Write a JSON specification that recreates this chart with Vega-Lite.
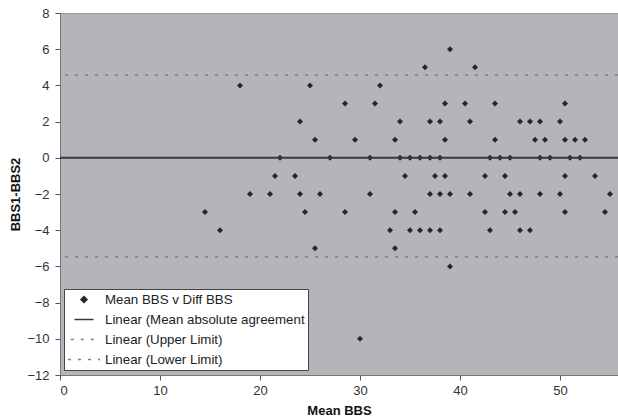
{
  "$schema": "https://vega.github.io/schema/vega-lite/v6.json",
  "width": 558,
  "height": 362,
  "autosize": {"type": "none"},
  "padding": {"left": 60, "top": 13, "right": 0, "bottom": 44},
  "background": "white",
  "config": {
    "view": {"fill": "#b4b5b9", "stroke": "#999999", "strokeWidth": 1},
    "font": "Liberation Sans",
    "axis": {
      "labelFont": "Liberation Sans",
      "labelFontSize": 13,
      "labelColor": "#333333",
      "labelOverlap": false,
      "titleFont": "Liberation Sans",
      "titleFontSize": 13,
      "titleFontWeight": "bold",
      "titleColor": "#111111",
      "tickColor": "#555555",
      "domainColor": "#777777",
      "tickSize": 5,
      "grid": false
    },
    "legend": {
      "title": null,
      "orient": "none",
      "legendX": 4,
      "legendY": 276,
      "fillColor": "white",
      "strokeColor": "#444444",
      "padding": 3,
      "rowPadding": 5,
      "clipHeight": 15,
      "labelFont": "Liberation Sans",
      "labelFontSize": 13.3,
      "labelColor": "#222222",
      "labelOffset": 4,
      "labelLimit": 400
    }
  },
  "datasets": {
    "pts": [
      {"m": 39, "d": 6},
      {"m": 36.5, "d": 5}, {"m": 41.5, "d": 5},
      {"m": 18, "d": 4}, {"m": 25, "d": 4}, {"m": 32, "d": 4},
      {"m": 28.5, "d": 3}, {"m": 31.5, "d": 3}, {"m": 38.5, "d": 3}, {"m": 40.5, "d": 3}, {"m": 43.5, "d": 3}, {"m": 50.5, "d": 3},
      {"m": 24, "d": 2}, {"m": 34, "d": 2}, {"m": 37, "d": 2}, {"m": 38, "d": 2}, {"m": 41, "d": 2}, {"m": 46, "d": 2}, {"m": 47, "d": 2}, {"m": 48, "d": 2}, {"m": 50, "d": 2},
      {"m": 25.5, "d": 1}, {"m": 29.5, "d": 1}, {"m": 33.5, "d": 1}, {"m": 38.5, "d": 1}, {"m": 43.5, "d": 1}, {"m": 47.5, "d": 1}, {"m": 48.5, "d": 1}, {"m": 50.5, "d": 1}, {"m": 51.5, "d": 1}, {"m": 52.5, "d": 1},
      {"m": 22, "d": 0}, {"m": 27, "d": 0}, {"m": 31, "d": 0}, {"m": 34, "d": 0}, {"m": 35, "d": 0}, {"m": 36, "d": 0}, {"m": 37, "d": 0}, {"m": 38, "d": 0}, {"m": 43, "d": 0}, {"m": 44, "d": 0}, {"m": 45, "d": 0}, {"m": 48, "d": 0}, {"m": 49, "d": 0}, {"m": 51, "d": 0}, {"m": 52, "d": 0},
      {"m": 21.5, "d": -1}, {"m": 23.5, "d": -1}, {"m": 34.5, "d": -1}, {"m": 37.5, "d": -1}, {"m": 38.5, "d": -1}, {"m": 42.5, "d": -1}, {"m": 44.5, "d": -1}, {"m": 50.5, "d": -1}, {"m": 53.5, "d": -1},
      {"m": 19, "d": -2}, {"m": 21, "d": -2}, {"m": 24, "d": -2}, {"m": 26, "d": -2}, {"m": 31, "d": -2}, {"m": 37, "d": -2}, {"m": 38, "d": -2}, {"m": 39, "d": -2}, {"m": 41, "d": -2}, {"m": 45, "d": -2}, {"m": 46, "d": -2}, {"m": 48, "d": -2}, {"m": 50, "d": -2}, {"m": 55, "d": -2},
      {"m": 14.5, "d": -3}, {"m": 24.5, "d": -3}, {"m": 28.5, "d": -3}, {"m": 33.5, "d": -3}, {"m": 35.5, "d": -3}, {"m": 42.5, "d": -3}, {"m": 44.5, "d": -3}, {"m": 45.5, "d": -3}, {"m": 50.5, "d": -3}, {"m": 54.5, "d": -3},
      {"m": 16, "d": -4}, {"m": 33, "d": -4}, {"m": 35, "d": -4}, {"m": 36, "d": -4}, {"m": 37, "d": -4}, {"m": 38, "d": -4}, {"m": 43, "d": -4}, {"m": 46, "d": -4}, {"m": 47, "d": -4},
      {"m": 25.5, "d": -5}, {"m": 33.5, "d": -5},
      {"m": 39, "d": -6},
      {"m": 30, "d": -10}
    ],
    "lines": [
      {"series": "Linear (Mean absolute agreement", "value": 0},
      {"series": "Linear (Upper Limit)", "value": 4.57},
      {"series": "Linear (Lower Limit)", "value": -5.47}
    ]
  },
  "layer": [
    {
      "data": {"name": "pts"},
      "transform": [{"calculate": "'Mean BBS v Diff BBS'", "as": "series"}],
      "mark": {"type": "point", "filled": true, "opacity": 1},
      "encoding": {
        "x": {"field": "m", "type": "quantitative", "title": "Mean BBS", "scale": {"domain": [0, 55.8], "nice": false, "zero": false}, "axis": {"values": [0, 10, 20, 30, 40, 50], "labelPadding": 4, "titlePadding": 7}},
        "y": {"field": "d", "type": "quantitative", "title": "BBS1-BBS2", "scale": {"domain": [-12, 8], "nice": false, "zero": false}, "axis": {"values": [-12, -10, -8, -6, -4, -2, 0, 2, 4, 6, 8], "labelPadding": 6, "titlePadding": 4}},
        "color": {"field": "series", "type": "nominal", "scale": {"domain": ["Mean BBS v Diff BBS", "Linear (Mean absolute agreement", "Linear (Upper Limit)", "Linear (Lower Limit)"], "range": ["#262626", "#3a3a3a", "#808080", "#808080"]},
          "legend": {
            "encode": {
              "symbols": {
                "update": {
                  "fill": {"signal": "datum.value === 'Mean BBS v Diff BBS' ? '#222222' : 'transparent'"},
                  "stroke": {"signal": "datum.value === 'Mean BBS v Diff BBS' ? 'transparent' : (datum.value === 'Linear (Mean absolute agreement' ? '#222222' : '#555555')"},
                  "strokeWidth": {"signal": "datum.value === 'Linear (Mean absolute agreement' ? 1.5 : 1"},
                  "strokeDash": {"signal": "(datum.value === 'Linear (Upper Limit)' || datum.value === 'Linear (Lower Limit)') ? [4, 6] : [1, 0]"},
                  "opacity": {"value": 1}
                }
              }
            }
          }
        },
        "shape": {"field": "series", "type": "nominal", "scale": {"domain": ["Mean BBS v Diff BBS", "Linear (Mean absolute agreement", "Linear (Upper Limit)", "Linear (Lower Limit)"], "range": ["diamond", "stroke", "stroke", "stroke"]}},
        "size": {"field": "series", "type": "nominal", "scale": {"domain": ["Mean BBS v Diff BBS", "Linear (Mean absolute agreement", "Linear (Upper Limit)", "Linear (Lower Limit)"], "range": [36, 1024, 1024, 1024]}}
      }
    },
    {
      "data": {"name": "lines"},
      "mark": {"type": "rule"},
      "encoding": {
        "y": {"field": "value", "type": "quantitative", "title": "BBS1-BBS2", "scale": {"domain": [-12, 8], "nice": false, "zero": false}, "axis": {"values": [-12, -10, -8, -6, -4, -2, 0, 2, 4, 6, 8], "labelPadding": 6, "titlePadding": 4}},
        "color": {"field": "series", "type": "nominal"},
        "strokeDash": {"field": "series", "type": "nominal", "scale": {"domain": ["Mean BBS v Diff BBS", "Linear (Mean absolute agreement", "Linear (Upper Limit)", "Linear (Lower Limit)"], "range": [[1, 0], [1, 0], [3, 7], [3, 7]]}},
        "strokeWidth": {"condition": {"test": "datum.value === 0", "value": 2}, "value": 1.5}
      }
    }
  ]
}
